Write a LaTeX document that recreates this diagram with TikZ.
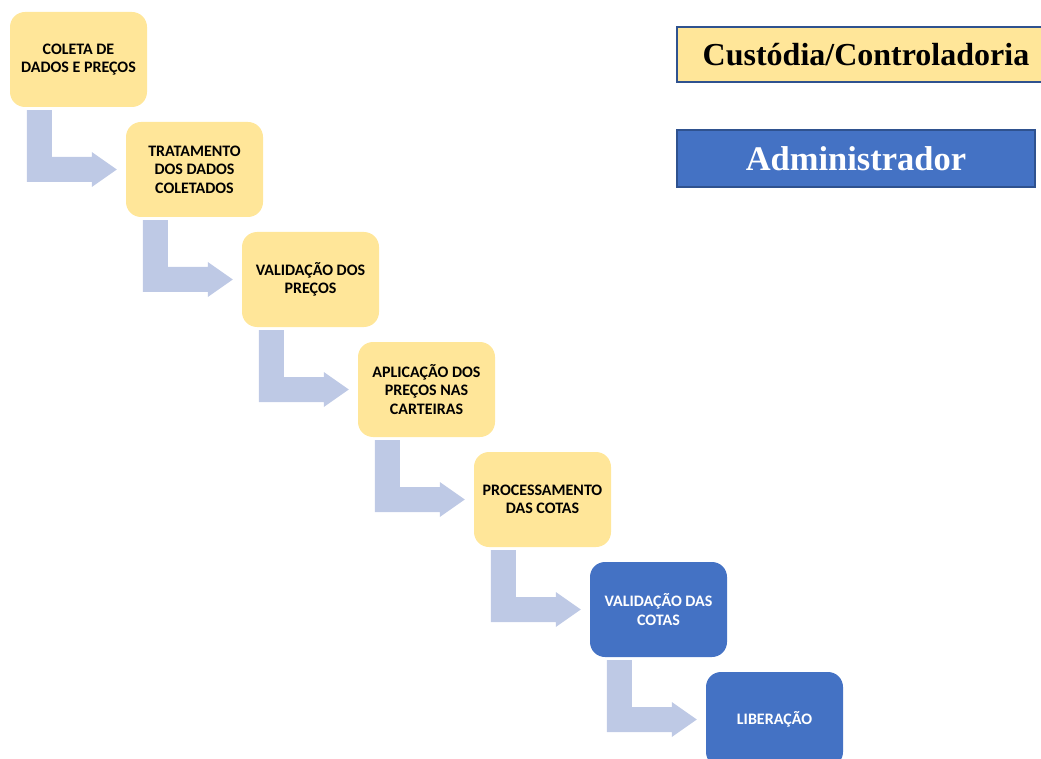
\documentclass[tikz,border=0pt]{standalone}
\usepackage{fontspec}
\setmainfont{Liberation Serif}
\newfontfamily\boxfont{Carlito}
\usepackage{xcolor}
\usetikzlibrary{calc}

\begin{document}
\begin{tikzpicture}[x=1pt,y=-1pt,
  stage/.style={rounded corners=15pt,minimum width=137pt,minimum height=95pt,
    inner sep=0pt,align=center,font=\boxfont\bfseries\fontsize{16}{18.5}\selectfont},
  custody/.style={stage,fill=custody,text=black},
  admin/.style={stage,fill=admin,text=white},
  legend/.style={draw=legendline,line width=2pt,inner sep=0pt,
    font=\bfseries\fontsize{32}{36}\selectfont}]
\definecolor{custody}{RGB}{255,230,153}
\definecolor{admin}{RGB}{68,114,196}
\definecolor{flow}{RGB}{190,201,229}
\definecolor{legendline}{RGB}{47,82,143}
\clip (0,0) rectangle (1041,759);
% process steps
\node [custody] (s1) at (78.5,59.5)  {COLETA DE\\DADOS E PREÇOS};
\node [custody] (s2) at (194.5,169.5) {TRATAMENTO\\DOS DADOS\\COLETADOS};
\node [custody] (s3) at (310.5,279.5) {VALIDAÇÃO DOS\\PREÇOS};
\node [custody] (s4) at (426.5,389.5) {APLICAÇÃO DOS\\PREÇOS NAS\\CARTEIRAS};
\node [custody] (s5) at (542.5,499.5) {PROCESSAMENTO\\DAS COTAS};
\node [admin]   (s6) at (658.5,609.5) {VALIDAÇÃO DAS\\COTAS};
\node [admin]   (s7) at (774.5,719.5) {LIBERAÇÃO};
% bent arrows
\foreach \i/\j in {1/2,2/3,3/4,4/5,5/6,6/7}
  \fill [flow] ($(s\i.south west)+(17,3)$) -- ++(25,0)
    |- ($(s\j.west)+(-34,-12.5)$) -- ++(0,-5) -- ($(s\j.west)+(-9,0)$)
    -- ($(s\j.west)+(-34,17.5)$) -- ++(0,-5) -| ($(s\i.south west)+(17,3)$) -- cycle;
% legend
\node [legend,fill=custody,minimum width=378pt,minimum height=55pt] (custodian)
  at (866,54.5) {Custódia/Controladoria};
\node [legend,fill=admin,text=white,minimum width=358pt,minimum height=57pt,
  font=\bfseries\fontsize{34.5}{38}\selectfont] (administrator)
  at (856,158.5) {Administrador};
\end{tikzpicture}
\end{document}
